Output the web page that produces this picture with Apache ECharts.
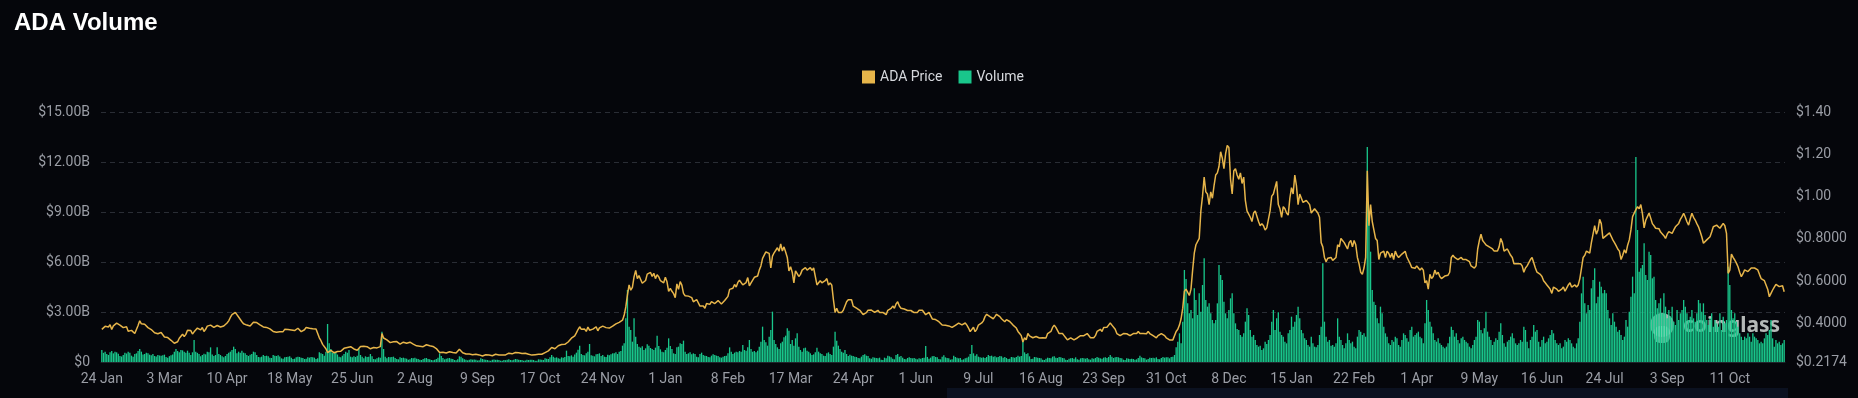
<!DOCTYPE html>
<html>
<head>
<meta charset="utf-8">
<title>ADA Volume</title>
<script src="https://cdn.jsdelivr.net/npm/echarts@6/dist/echarts.min.js"></script>
<style>
  html, body { margin: 0; padding: 0; background: #05060b; }
  #main { width: 1858px; height: 398px; }
</style>
</head>
<body>
<div id="main"></div>
<script>
// daily closes, one value per category (Jan 24 2023 .. Nov 13 2025)
const startDate = '2023-01-24';
const endDate = '2025-11-13';
// the source feed has three days missing between 24 Jul and 3 Sep 2025
const skippedDays = ['2025-08-05', '2025-08-06', '2025-08-07'];
const monthNames = ['Jan', 'Feb', 'Mar', 'Apr', 'May', 'Jun', 'Jul', 'Aug', 'Sep', 'Oct', 'Nov', 'Dec'];

// ADA price, USD
const price2023 = [
  0.372, 0.378, 0.386, 0.380, 0.383, 0.394, 0.371, 0.388,
  0.396, 0.401, 0.398, 0.392, 0.384, 0.380, 0.388, 0.384, 0.363, 0.365, 0.367, 0.360, 0.352, 0.357, 0.390, 0.412, 0.398, 0.404, 0.396, 0.392, 0.380, 0.375, 0.371, 0.366, 0.356, 0.360, 0.351, 0.353,
  0.357, 0.348, 0.336, 0.334, 0.333, 0.331, 0.320, 0.311, 0.306, 0.309, 0.313, 0.330, 0.332, 0.349, 0.338, 0.348, 0.368, 0.359, 0.366, 0.350, 0.360, 0.357, 0.378, 0.372, 0.369, 0.381, 0.362, 0.372, 0.387, 0.388, 0.392,
  0.391, 0.381, 0.378, 0.390, 0.388, 0.383, 0.381, 0.388, 0.392, 0.402, 0.412, 0.428, 0.441, 0.449, 0.452, 0.446, 0.430, 0.432, 0.408, 0.398, 0.389, 0.392, 0.391, 0.388, 0.396, 0.405, 0.412, 0.404, 0.400, 0.393,
  0.385, 0.383, 0.386, 0.381, 0.384, 0.374, 0.370, 0.362, 0.360, 0.358, 0.363, 0.361, 0.362, 0.361, 0.372, 0.364, 0.371, 0.368, 0.369, 0.370, 0.366, 0.369, 0.377, 0.371, 0.361, 0.368, 0.370, 0.381, 0.378, 0.377, 0.370,
  0.375, 0.377, 0.374, 0.371, 0.332, 0.318, 0.301, 0.299, 0.280, 0.262, 0.268, 0.272, 0.270, 0.261, 0.258, 0.267, 0.271, 0.268, 0.269, 0.282, 0.290, 0.286, 0.291, 0.290, 0.282, 0.279, 0.276, 0.273, 0.279, 0.291,
  0.293, 0.292, 0.291, 0.290, 0.282, 0.280, 0.282, 0.286, 0.285, 0.284, 0.292, 0.290, 0.352, 0.331, 0.326, 0.322, 0.318, 0.309, 0.314, 0.313, 0.316, 0.314, 0.310, 0.302, 0.306, 0.311, 0.305, 0.306, 0.313, 0.311, 0.303,
  0.302, 0.296, 0.294, 0.292, 0.292, 0.291, 0.290, 0.298, 0.299, 0.296, 0.294, 0.293, 0.291, 0.290, 0.281, 0.275, 0.262, 0.258, 0.263, 0.262, 0.260, 0.259, 0.266, 0.264, 0.262, 0.261, 0.260, 0.262, 0.278, 0.271, 0.261,
  0.257, 0.255, 0.256, 0.255, 0.253, 0.252, 0.253, 0.254, 0.252, 0.251, 0.243, 0.246, 0.248, 0.252, 0.252, 0.250, 0.249, 0.247, 0.249, 0.254, 0.251, 0.251, 0.251, 0.250, 0.249, 0.251, 0.255, 0.259, 0.257, 0.256,
  0.264, 0.262, 0.260, 0.261, 0.259, 0.258, 0.258, 0.259, 0.255, 0.254, 0.251, 0.250, 0.250, 0.252, 0.250, 0.254, 0.255, 0.254, 0.255, 0.262, 0.264, 0.270, 0.276, 0.286, 0.283, 0.280, 0.287, 0.294, 0.298, 0.300, 0.296,
  0.301, 0.305, 0.312, 0.318, 0.330, 0.335, 0.341, 0.355, 0.371, 0.384, 0.372, 0.376, 0.373, 0.362, 0.383, 0.368, 0.366, 0.373, 0.380, 0.384, 0.365, 0.379, 0.381, 0.387, 0.389, 0.380, 0.372, 0.378, 0.381, 0.387,
  0.391, 0.398, 0.401, 0.405, 0.404, 0.415, 0.438, 0.478, 0.535, 0.582, 0.557, 0.570, 0.620, 0.651, 0.612, 0.626, 0.608, 0.590, 0.582, 0.603, 0.633, 0.638, 0.641, 0.622, 0.637, 0.612, 0.630, 0.620, 0.602, 0.598, 0.592
];
const price2024 = [
  0.618, 0.597, 0.551, 0.566, 0.552, 0.541, 0.522, 0.587, 0.561, 0.598, 0.581, 0.542, 0.531, 0.522, 0.529, 0.531, 0.522, 0.502, 0.511, 0.513, 0.509, 0.482, 0.474, 0.482, 0.472, 0.494, 0.492, 0.490, 0.503, 0.512, 0.494,
  0.502, 0.508, 0.510, 0.492, 0.498, 0.508, 0.512, 0.528, 0.561, 0.553, 0.566, 0.584, 0.572, 0.594, 0.604, 0.601, 0.582, 0.591, 0.593, 0.617, 0.578, 0.592, 0.601, 0.618, 0.622, 0.624, 0.652, 0.672, 0.708,
  0.712, 0.738, 0.744, 0.731, 0.662, 0.718, 0.734, 0.742, 0.758, 0.741, 0.776, 0.742, 0.762, 0.738, 0.712, 0.648, 0.668, 0.642, 0.592, 0.648, 0.652, 0.622, 0.632, 0.652, 0.661, 0.664, 0.652, 0.661, 0.664, 0.651, 0.662,
  0.622, 0.582, 0.592, 0.602, 0.592, 0.591, 0.602, 0.612, 0.581, 0.592, 0.581, 0.512, 0.452, 0.472, 0.452, 0.451, 0.452, 0.462, 0.482, 0.502, 0.512, 0.521, 0.512, 0.482, 0.481, 0.472, 0.471, 0.462, 0.461, 0.442,
  0.442, 0.451, 0.462, 0.461, 0.463, 0.458, 0.452, 0.451, 0.462, 0.452, 0.451, 0.452, 0.448, 0.441, 0.462, 0.464, 0.471, 0.482, 0.472, 0.492, 0.502, 0.482, 0.472, 0.471, 0.468, 0.462, 0.461, 0.458, 0.461, 0.452, 0.451,
  0.451, 0.452, 0.462, 0.461, 0.462, 0.458, 0.441, 0.449, 0.452, 0.443, 0.421, 0.428, 0.418, 0.412, 0.408, 0.412, 0.392, 0.389, 0.391, 0.392, 0.388, 0.392, 0.381, 0.382, 0.391, 0.392, 0.401, 0.392, 0.393, 0.391,
  0.402, 0.392, 0.378, 0.361, 0.358, 0.382, 0.361, 0.372, 0.392, 0.401, 0.402, 0.412, 0.432, 0.443, 0.452, 0.432, 0.441, 0.422, 0.432, 0.443, 0.452, 0.432, 0.422, 0.421, 0.408, 0.418, 0.412, 0.409, 0.402, 0.392, 0.388,
  0.378, 0.362, 0.352, 0.342, 0.312, 0.332, 0.322, 0.352, 0.341, 0.342, 0.332, 0.341, 0.338, 0.332, 0.331, 0.328, 0.332, 0.334, 0.331, 0.352, 0.361, 0.362, 0.381, 0.392, 0.381, 0.372, 0.352, 0.351, 0.352, 0.342, 0.332,
  0.322, 0.331, 0.332, 0.328, 0.322, 0.321, 0.331, 0.332, 0.342, 0.341, 0.342, 0.343, 0.352, 0.351, 0.332, 0.331, 0.332, 0.342, 0.362, 0.361, 0.372, 0.362, 0.381, 0.382, 0.382, 0.392, 0.402, 0.392, 0.391, 0.372,
  0.352, 0.351, 0.342, 0.351, 0.352, 0.352, 0.351, 0.352, 0.342, 0.341, 0.352, 0.351, 0.352, 0.362, 0.352, 0.351, 0.352, 0.353, 0.351, 0.362, 0.352, 0.351, 0.342, 0.341, 0.332, 0.342, 0.351, 0.352, 0.351, 0.342, 0.332,
  0.331, 0.322, 0.321, 0.322, 0.331, 0.362, 0.372, 0.392, 0.422, 0.472, 0.552, 0.562, 0.562, 0.532, 0.562, 0.652, 0.732, 0.772, 0.771, 0.802, 0.932, 1.002, 1.092, 1.022, 1.012, 0.962, 1.022, 0.992, 1.052, 1.102,
  1.112, 1.142, 1.212, 1.182, 1.132, 1.202, 1.242, 1.232, 1.082, 1.012, 1.122, 1.132, 1.102, 1.082, 1.112, 1.062, 1.092, 0.982, 0.932, 0.932, 0.902, 0.882, 0.922, 0.932, 0.932, 0.882, 0.862, 0.872, 0.862, 0.842, 0.852
];
const price2025 = [
  0.892, 0.932, 1.002, 1.012, 1.012, 1.072, 0.962, 0.942, 0.902, 0.952, 0.942, 0.922, 0.912, 0.992, 1.042, 1.012, 1.102, 1.052, 0.962, 1.012, 0.992, 0.972, 0.972, 0.982, 0.982, 0.962, 0.922, 0.922, 0.942, 0.942, 0.922,
  0.902, 0.782, 0.762, 0.712, 0.692, 0.708, 0.701, 0.712, 0.698, 0.704, 0.712, 0.772, 0.762, 0.802, 0.802, 0.782, 0.782, 0.752, 0.782, 0.792, 0.762, 0.792, 0.772, 0.712, 0.682, 0.642, 0.632, 0.662,
  0.712, 1.122, 0.862, 0.962, 0.882, 0.842, 0.802, 0.792, 0.702, 0.732, 0.732, 0.742, 0.712, 0.742, 0.732, 0.712, 0.732, 0.702, 0.742, 0.722, 0.712, 0.718, 0.728, 0.735, 0.741, 0.714, 0.709, 0.682, 0.664, 0.658, 0.661,
  0.672, 0.662, 0.652, 0.662, 0.652, 0.592, 0.602, 0.562, 0.632, 0.612, 0.622, 0.652, 0.632, 0.642, 0.622, 0.612, 0.618, 0.624, 0.616, 0.628, 0.642, 0.712, 0.722, 0.712, 0.712, 0.702, 0.702, 0.712, 0.702, 0.702,
  0.702, 0.702, 0.692, 0.672, 0.672, 0.662, 0.672, 0.752, 0.792, 0.822, 0.792, 0.782, 0.772, 0.772, 0.762, 0.762, 0.752, 0.742, 0.742, 0.742, 0.762, 0.802, 0.782, 0.742, 0.742, 0.752, 0.752, 0.722, 0.712, 0.682, 0.682,
  0.682, 0.682, 0.682, 0.672, 0.642, 0.662, 0.672, 0.672, 0.702, 0.712, 0.712, 0.662, 0.642, 0.642, 0.632, 0.622, 0.602, 0.592, 0.582, 0.572, 0.562, 0.542, 0.572, 0.572, 0.562, 0.552, 0.552, 0.562, 0.572, 0.552,
  0.552, 0.582, 0.592, 0.572, 0.572, 0.582, 0.572, 0.582, 0.612, 0.662, 0.712, 0.722, 0.742, 0.742, 0.732, 0.782, 0.822, 0.862, 0.822, 0.842, 0.892, 0.872, 0.802,
  0.810, 0.815, 0.822, 0.828, 0.812, 0.795, 0.782, 0.768, 0.752, 0.742, 0.702, 0.722, 0.748, 0.732, 0.770, 0.795, 0.842, 0.905, 0.922, 0.938,
  0.952, 0.942, 0.962, 0.918, 0.852, 0.888, 0.905, 0.922, 0.898, 0.872, 0.862, 0.850, 0.858, 0.848, 0.832, 0.826, 0.815, 0.802, 0.822, 0.834,
  0.828, 0.826, 0.842, 0.857, 0.862, 0.873, 0.892, 0.905, 0.921, 0.902, 0.881, 0.865, 0.895, 0.921, 0.902, 0.889, 0.872, 0.857, 0.835, 0.810,
  0.779, 0.788, 0.795, 0.802, 0.810, 0.832, 0.857, 0.862, 0.865, 0.858, 0.850, 0.862, 0.873, 0.862, 0.826, 0.637, 0.652, 0.728, 0.712, 0.700,
  0.685, 0.668, 0.642, 0.621, 0.635, 0.653, 0.648, 0.645, 0.652, 0.662, 0.668, 0.662, 0.655, 0.653, 0.632, 0.612, 0.605, 0.602, 0.600, 0.562,
  0.526, 0.542, 0.558, 0.572, 0.585, 0.590, 0.574, 0.568, 0.578, 0.550
];

// spot volume, billions USD
const volume2023 = [
  0.72, 0.55, 0.62, 0.48, 0.42, 0.58, 0.66, 0.52,
  0.61, 0.58, 0.49, 0.36, 0.33, 0.42, 0.55, 0.51, 0.62, 0.55, 0.38, 0.31, 0.48, 0.52, 0.66, 0.78, 0.62, 0.45, 0.48, 0.56, 0.52, 0.44, 0.40, 0.48, 0.36, 0.33, 0.42, 0.39,
  0.38, 0.41, 0.44, 0.30, 0.26, 0.35, 0.40, 0.45, 0.62, 0.78, 0.66, 0.58, 0.72, 0.70, 0.62, 0.55, 0.68, 0.56, 0.42, 0.58, 1.32, 0.62, 0.55, 0.48, 0.35, 0.42, 0.50, 0.46, 0.62, 0.58, 0.88,
  0.45, 0.36, 0.42, 0.88, 0.48, 0.42, 0.35, 0.28, 0.36, 0.48, 0.56, 0.62, 0.72, 0.92, 0.78, 0.52, 0.62, 0.55, 0.68, 0.56, 0.52, 0.42, 0.36, 0.44, 0.48, 0.62, 0.58, 0.42, 0.30, 0.28,
  0.32, 0.42, 0.36, 0.38, 0.35, 0.26, 0.24, 0.42, 0.38, 0.36, 0.40, 0.33, 0.22, 0.20, 0.28, 0.30, 0.32, 0.34, 0.26, 0.18, 0.20, 0.28, 0.32, 0.30, 0.26, 0.24, 0.18, 0.20, 0.28, 0.26, 0.30,
  0.28, 0.26, 0.18, 0.22, 0.58, 0.52, 0.48, 0.38, 0.62, 2.28, 1.12, 0.78, 0.55, 0.62, 0.58, 0.45, 0.32, 0.28, 0.38, 0.48, 0.62, 0.55, 0.72, 0.32, 0.28, 0.35, 0.30, 0.38, 0.78, 0.42,
  0.32, 0.22, 0.34, 0.30, 0.32, 0.48, 0.35, 0.18, 0.16, 0.22, 0.28, 0.26, 1.82, 0.78, 0.32, 0.22, 0.30, 0.28, 0.30, 0.32, 0.24, 0.18, 0.16, 0.28, 0.24, 0.26, 0.22, 0.20, 0.14, 0.16, 0.24,
  0.22, 0.26, 0.20, 0.18, 0.14, 0.12, 0.18, 0.22, 0.24, 0.18, 0.16, 0.12, 0.10, 0.14, 0.18, 0.26, 0.52, 0.36, 0.24, 0.16, 0.20, 0.22, 0.24, 0.20, 0.18, 0.12, 0.11, 0.16, 0.34, 0.32, 0.22,
  0.16, 0.14, 0.10, 0.14, 0.16, 0.14, 0.15, 0.13, 0.09, 0.10, 0.22, 0.18, 0.15, 0.14, 0.12, 0.09, 0.08, 0.14, 0.15, 0.13, 0.14, 0.12, 0.08, 0.08, 0.12, 0.11, 0.14, 0.16, 0.12, 0.10,
  0.14, 0.18, 0.16, 0.14, 0.12, 0.12, 0.08, 0.09, 0.14, 0.12, 0.13, 0.14, 0.12, 0.08, 0.08, 0.16, 0.15, 0.14, 0.12, 0.22, 0.20, 0.18, 0.28, 0.42, 0.32, 0.26, 0.28, 0.22, 0.20, 0.28, 0.26,
  0.30, 0.68, 0.36, 0.34, 0.40, 0.32, 0.45, 0.56, 0.74, 0.98, 0.48, 0.42, 0.40, 0.52, 0.62, 1.08, 0.40, 0.38, 0.34, 0.46, 0.48, 0.52, 0.36, 0.42, 0.32, 0.30, 0.44, 0.40, 0.46, 0.52,
  0.52, 0.58, 0.48, 0.62, 0.66, 0.98, 1.12, 2.62, 4.32, 2.12, 1.92, 1.22, 2.62, 1.52, 1.08, 0.92, 0.86, 0.94, 0.72, 0.82, 1.06, 0.98, 0.84, 0.78, 0.72, 0.86, 1.58, 0.96, 0.76, 0.62, 0.58
];
const volume2024 = [
  0.72, 0.86, 1.42, 0.96, 0.78, 0.52, 0.48, 0.88, 0.92, 1.12, 1.08, 1.28, 0.62, 0.48, 0.52, 0.58, 0.46, 0.52, 0.48, 0.32, 0.28, 0.48, 0.56, 0.42, 0.38, 0.36, 0.30, 0.28, 0.38, 0.46, 0.42,
  0.38, 0.36, 0.28, 0.26, 0.32, 0.36, 0.38, 0.52, 0.88, 0.62, 0.48, 0.56, 0.62, 0.58, 0.66, 0.62, 1.02, 0.72, 0.68, 0.88, 1.32, 0.78, 0.62, 0.66, 0.58, 0.68, 0.92, 1.22, 2.12,
  1.32, 1.18, 0.98, 1.52, 1.92, 3.02, 1.32, 1.08, 0.88, 0.78, 1.12, 1.22, 1.48, 1.58, 2.02, 1.88, 1.08, 1.32, 0.98, 1.42, 1.72, 0.92, 0.72, 0.62, 0.82, 0.86, 0.68, 0.62, 0.52, 0.42, 0.46,
  0.58, 0.86, 0.62, 0.52, 0.48, 0.38, 0.36, 0.52, 0.58, 0.48, 0.42, 0.92, 1.82, 1.28, 0.98, 0.78, 0.62, 0.56, 0.72, 0.48, 0.36, 0.44, 0.38, 0.36, 0.32, 0.30, 0.24, 0.22, 0.32, 0.42,
  0.46, 0.38, 0.36, 0.22, 0.20, 0.28, 0.26, 0.24, 0.22, 0.26, 0.14, 0.12, 0.26, 0.22, 0.38, 0.34, 0.28, 0.20, 0.16, 0.42, 0.48, 0.32, 0.36, 0.26, 0.18, 0.16, 0.24, 0.28, 0.24, 0.22, 0.24,
  0.20, 0.16, 0.22, 0.20, 0.24, 0.26, 0.96, 0.30, 0.20, 0.26, 0.34, 0.36, 0.30, 0.28, 0.18, 0.16, 0.32, 0.40, 0.28, 0.24, 0.22, 0.14, 0.16, 0.38, 0.30, 0.26, 0.22, 0.24, 0.14, 0.16,
  0.22, 0.26, 0.32, 0.48, 1.02, 0.52, 0.38, 0.46, 0.32, 0.28, 0.26, 0.28, 0.24, 0.30, 0.42, 0.36, 0.38, 0.32, 0.34, 0.28, 0.30, 0.36, 0.34, 0.26, 0.30, 0.24, 0.18, 0.20, 0.30, 0.28, 0.26,
  0.30, 0.38, 0.32, 0.36, 1.22, 0.58, 0.48, 0.52, 0.34, 0.18, 0.20, 0.30, 0.28, 0.26, 0.24, 0.22, 0.14, 0.12, 0.20, 0.26, 0.24, 0.22, 0.32, 0.34, 0.26, 0.24, 0.30, 0.28, 0.24, 0.22, 0.14,
  0.12, 0.20, 0.22, 0.24, 0.20, 0.28, 0.16, 0.14, 0.22, 0.24, 0.22, 0.20, 0.24, 0.16, 0.14, 0.22, 0.20, 0.24, 0.30, 0.26, 0.22, 0.20, 0.26, 0.28, 0.24, 0.30, 0.42, 0.32, 0.24, 0.28,
  0.30, 0.28, 0.24, 0.22, 0.14, 0.12, 0.22, 0.20, 0.18, 0.20, 0.18, 0.14, 0.16, 0.24, 0.38, 0.28, 0.24, 0.22, 0.14, 0.18, 0.26, 0.24, 0.26, 0.22, 0.28, 0.18, 0.16, 0.24, 0.30, 0.26, 0.28,
  0.28, 0.22, 0.30, 0.32, 0.42, 0.88, 1.22, 1.72, 1.12, 2.42, 5.52, 4.98, 3.52, 2.92, 3.12, 2.62, 4.42, 3.72, 2.82, 4.12, 3.02, 4.62, 6.22, 3.72, 3.32, 3.52, 2.92, 2.52, 2.32, 2.52,
  3.52, 5.82, 5.22, 4.92, 3.62, 2.92, 2.62, 3.12, 3.82, 4.12, 2.92, 2.32, 1.98, 1.92, 1.62, 1.52, 1.72, 2.42, 3.22, 2.82, 1.92, 1.52, 1.62, 1.32, 1.02, 0.92, 0.98, 0.72, 0.82, 1.22, 1.08
];
const volume2025 = [
  1.32, 1.62, 2.42, 3.12, 1.92, 2.62, 2.98, 1.82, 1.62, 1.52, 1.22, 1.12, 1.72, 1.92, 2.72, 2.12, 2.42, 2.82, 3.32, 2.62, 1.92, 1.72, 1.42, 1.32, 1.02, 0.92, 1.52, 1.12, 0.92, 0.88, 1.02,
  1.62, 2.12, 5.92, 2.42, 1.52, 1.22, 1.32, 0.98, 1.02, 0.92, 1.12, 2.62, 1.52, 1.32, 1.02, 0.82, 1.12, 1.72, 1.32, 1.12, 1.22, 0.92, 0.82, 1.52, 1.92, 1.82, 1.62, 1.72,
  1.52, 12.9, 8.42, 6.62, 4.32, 3.62, 3.42, 2.62, 2.32, 3.32, 2.92, 2.12, 1.72, 1.52, 1.12, 1.02, 1.32, 1.22, 1.52, 1.42, 1.02, 0.92, 1.32, 1.72, 1.62, 1.42, 1.22, 1.92, 2.12, 1.52, 1.62,
  1.72, 1.82, 1.52, 1.42, 1.12, 2.32, 3.72, 3.12, 2.42, 2.12, 1.72, 1.32, 1.22, 1.42, 1.12, 1.02, 0.92, 0.82, 0.92, 1.12, 1.52, 2.12, 1.92, 1.52, 1.72, 1.32, 1.12, 1.42, 1.52, 1.32,
  1.22, 1.12, 0.92, 0.82, 1.02, 1.32, 1.52, 2.52, 2.42, 1.92, 1.72, 2.02, 3.02, 1.82, 1.52, 1.32, 1.02, 1.22, 1.42, 1.32, 1.82, 2.32, 1.62, 1.12, 0.92, 1.22, 1.32, 1.52, 1.72, 1.42, 1.12,
  1.02, 1.12, 1.32, 1.22, 2.12, 1.92, 1.22, 0.82, 1.32, 1.52, 2.22, 1.82, 1.92, 1.22, 0.92, 1.32, 1.52, 1.12, 1.22, 1.42, 1.62, 1.92, 1.72, 1.32, 1.12, 1.02, 1.12, 0.82, 0.92, 1.32,
  1.22, 1.42, 1.32, 1.12, 0.92, 0.82, 1.12, 1.42, 2.42, 4.12, 5.12, 3.52, 2.92, 3.42, 3.12, 4.42, 4.92, 5.62, 3.52, 3.92, 4.82, 4.52, 4.12,
  4.32, 4.12, 3.12, 2.62, 2.22, 2.92, 2.42, 2.12, 1.82, 1.92, 1.62, 1.32, 1.52, 2.52, 2.12, 3.02, 3.92, 5.12, 4.12, 12.3,
  7.92, 5.42, 5.62, 5.82, 7.12, 5.22, 4.92, 6.62, 6.42, 5.02, 5.12, 3.72, 3.22, 3.52, 3.82, 2.92, 4.12, 3.32, 2.62, 3.12,
  2.72, 3.32, 2.42, 2.22, 3.12, 2.52, 2.92, 3.12, 3.72, 3.32, 2.92, 2.52, 2.72, 3.12, 2.62, 2.42, 2.92, 3.72, 3.52, 3.02,
  3.52, 2.82, 2.52, 2.22, 2.62, 2.92, 2.12, 2.52, 2.32, 2.12, 2.92, 1.92, 2.72, 2.32, 2.52, 5.72, 4.62, 3.12, 2.62, 2.92,
  2.42, 2.12, 1.72, 1.52, 1.32, 1.52, 1.42, 1.72, 1.52, 1.22, 1.72, 1.52, 1.42, 1.32, 1.12, 1.22, 1.12, 1.42, 1.72, 1.62,
  1.92, 2.52, 1.42, 0.92, 1.32, 1.12, 1.22, 1.02, 1.12, 1.32
];

// right axis bottom is pinned to the lowest close shown by the source
const priceAxisMin = 0.2174;
const priceAxisMax = 1.4;

function buildDays() {
  const out = [];
  let t = Date.parse(startDate + 'T00:00:00Z');
  const end = Date.parse(endDate + 'T00:00:00Z');
  while (t <= end) {
    const d = new Date(t);
    const iso = d.toISOString().slice(0, 10);
    if (skippedDays.indexOf(iso) < 0) {
      out.push(d.getUTCDate() + ' ' + monthNames[d.getUTCMonth()]);
    }
    t += 86400000;
  }
  return out;
}

const days = buildDays();
const prices = price2023.concat(price2024, price2025);
const volumes = volume2023.concat(volume2024, volume2025);

const chart = echarts.init(document.getElementById('main'));

const axisText = { color: '#9a9da5', fontSize: 14, fontFamily: 'Roboto' };

const option = {
  backgroundColor: '#05060b',
  animation: false,
  title: {
    text: 'ADA Volume',
    left: 9,
    top: 6,
    textStyle: { color: '#ffffff', fontSize: 24, fontWeight: 'bold', fontFamily: 'Liberation Sans' }
  },
  legend: {
    data: ['ADA Price', 'Volume'],
    left: 857,
    top: 65,
    icon: 'rect',
    itemWidth: 13,
    itemHeight: 13,
    itemGap: 16,
    textStyle: { color: '#d6d8dd', fontSize: 14, fontFamily: 'Roboto' }
  },
  grid: { left: 101, right: 73, top: 112, bottom: 36 },
  xAxis: {
    type: 'category',
    data: days,
    boundaryGap: true,
    axisLine: { lineStyle: { color: '#23262d' } },
    axisTick: { alignWithLabel: true, interval: 37, length: 4, lineStyle: { color: '#3a3d45' } },
    axisLabel: Object.assign({ interval: 37, margin: 10 }, axisText)
  },
  yAxis: [
    {
      type: 'value',
      position: 'left',
      min: 0,
      max: 15,
      interval: 3,
      axisLine: { show: false },
      axisTick: { show: false },
      splitLine: { lineStyle: { color: '#2a2d35', type: [5, 4] } },
      axisLabel: Object.assign({
        margin: 11,
        formatter: (v) => (v === 0 ? '$0' : '$' + v.toFixed(2) + 'B')
      }, axisText)
    },
    {
      type: 'value',
      position: 'right',
      min: priceAxisMin,
      max: priceAxisMax,
      axisLine: { show: false },
      axisTick: { show: false },
      splitLine: { show: false },
      axisLabel: Object.assign({
        margin: 11,
        formatter: (v) => '$' + (v >= 1 ? v.toFixed(2) : v.toFixed(4))
      }, axisText)
    }
  ],
  series: [
    {
      name: 'Volume',
      type: 'bar',
      yAxisIndex: 0,
      data: volumes,
      barCategoryGap: '20%',
      itemStyle: { color: '#19c68b' },
      z: 2
    },
    {
      name: 'ADA Price',
      type: 'line',
      yAxisIndex: 1,
      data: prices,
      showSymbol: false,
      symbol: 'none',
      lineStyle: { color: '#e7b54a', width: 1.5 },
      itemStyle: { color: '#e7b54a' },
      z: 3
    }
  ],
  graphic: [
    // strip along the bottom edge of the page capture
    { type: 'rect', left: 947, top: 388, shape: { width: 841, height: 10 }, style: { fill: '#0b1120' }, z: 0 },
    // watermark
    {
      type: 'group',
      left: 1650,
      top: 313,
      z: 10,
      children: [
        { type: 'circle', shape: { cx: 13, cy: 13, r: 12 }, style: { fill: 'rgba(235,245,240,0.72)' } },
        { type: 'rect', shape: { x: 5, y: 14, width: 16, height: 17, r: 6 }, style: { fill: 'rgba(235,245,240,0.72)' } },
        { type: 'text', style: { x: 34, y: 4, text: 'coinglass', fill: 'rgba(240,245,242,0.75)', fontSize: 21, fontWeight: 'bold', fontFamily: 'Noto Sans' } }
      ]
    }
  ]
};

if (days.length !== prices.length || days.length !== volumes.length) {
  option.graphic.push({ type: 'text', left: 300, top: 10, style: { text: 'len ' + days.length + ' / ' + prices.length + ' / ' + volumes.length, fill: '#f00', fontSize: 16 } });
}

chart.setOption(option);
</script>
</body>
</html>
